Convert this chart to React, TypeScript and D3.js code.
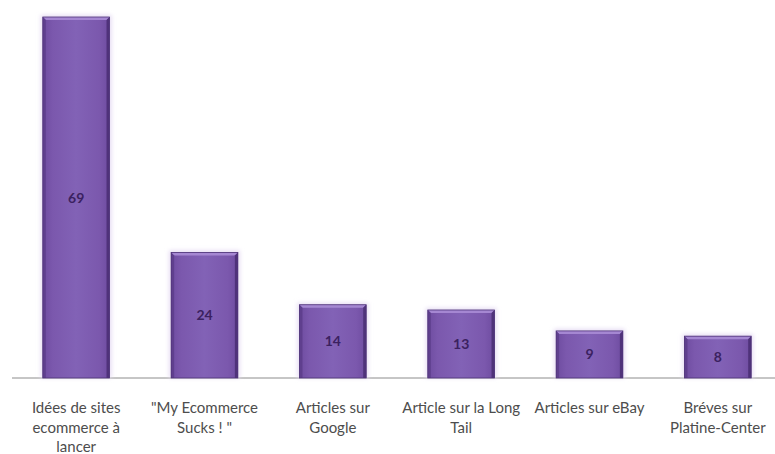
import React from "react";
import * as d3 from "d3";

const categories: string[] = [
  "Idées de sites\necommerce à\nlancer",
  "\"My Ecommerce\nSucks ! \"",
  "Articles sur\nGoogle",
  "Article sur la Long\nTail",
  "Articles sur eBay",
  "Bréves sur\nPlatine-Center",
];
const values: number[] = [69, 24, 14, 13, 9, 8];

const W = 775;
const H = 454;
const baseline = 378;

export default function App() {
  const x = d3
    .scaleBand<number>()
    .domain(d3.range(values.length))
    .range([12, 782])
    .paddingInner(0.48)
    .paddingOuter(0.24);
  const y = d3.scaleLinear().domain([0, 69]).range([baseline, 17]);
  const bw = x.bandwidth();
  const bev = 3;

  return (
    <svg
      width={W}
      height={H}
      style={{ position: "absolute", left: 0, top: 0, background: "#fff" }}
    >
      <defs>
        <linearGradient id="face" x1="0" x2="1" y1="0" y2="0">
          <stop offset="0" stopColor="#6e4ca0" />
          <stop offset="0.15" stopColor="#7b58ad" />
          <stop offset="0.5" stopColor="#8262b6" />
          <stop offset="0.85" stopColor="#7b58ad" />
          <stop offset="1" stopColor="#6e4ca0" />
        </linearGradient>
        <filter id="glow" x="-20%" y="-20%" width="140%" height="140%">
          <feGaussianBlur stdDeviation="2" />
        </filter>
      </defs>
      <line x1={12} x2={775} y1={baseline} y2={baseline} stroke="#8c8c8c" strokeWidth={1} />
      {values.map((v, i) => {
        const x0 = x(i)!;
        const y0 = y(v);
        const h = baseline - y0;
        return (
          <g key={i}>
            <rect
              x={x0 - 2}
              y={y0 - 2}
              width={bw + 4}
              height={h + 2}
              fill="#e6dcf3"
              filter="url(#glow)"
            />
            <rect x={x0} y={y0} width={bw} height={h} fill="url(#face)" />
            <polygon
              points={`${x0},${y0} ${x0 + bw},${y0} ${x0 + bw - bev},${y0 + bev} ${x0 + bev},${y0 + bev}`}
              fill="#a587d2"
            />
            <polygon
              points={`${x0},${y0} ${x0 + bev},${y0 + bev} ${x0 + bev},${baseline} ${x0},${baseline}`}
              fill="#5f3f8e"
            />
            <polygon
              points={`${x0 + bw},${y0} ${x0 + bw - bev},${y0 + bev} ${x0 + bw - bev},${baseline} ${x0 + bw},${baseline}`}
              fill="#4f327a"
            />
            <rect x={x0} y={y0} width={bw} height={h} fill="none" stroke="#4d3277" strokeWidth={0.8} />
            <text
              x={x0 + bw / 2}
              y={y0 + h / 2 + 5}
              textAnchor="middle"
              fontFamily="Lato, 'Open Sans', sans-serif"
              fontSize={14}
              fontWeight={700}
              fill="#3b2160"
            >
              {v}
            </text>
            <text
              textAnchor="middle"
              fontFamily="Lato, 'Open Sans', sans-serif"
              fontSize={15}
              fill="#4d4d4d"
            >
              {categories[i].split("\n").map((ln, k) => (
                <tspan key={k} x={x0 + bw / 2} y={413 + k * 19.5} style={{ whiteSpace: "pre" }}>
                  {ln}
                </tspan>
              ))}
            </text>
          </g>
        );
      })}
    </svg>
  );
}
